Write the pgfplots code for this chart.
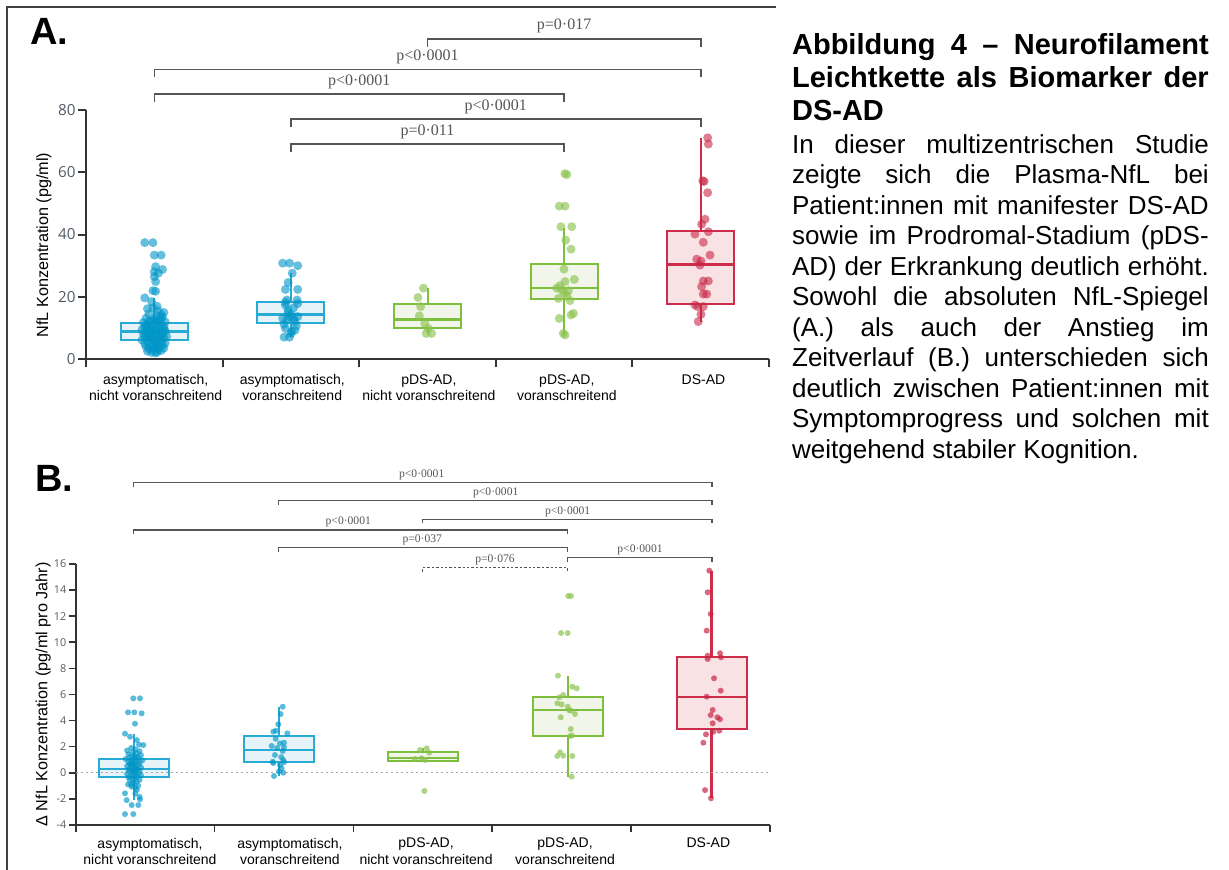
\documentclass[border=0pt]{standalone}
\usepackage{pgfplots}
\pgfplotsset{compat=1.18}
\usepgfplotslibrary{statistics}
\usepackage{fontspec}
\setmainfont{Liberation Sans}
\newfontfamily\pfont{Liberation Serif}
\newfontfamily\tfont{Open Sans}
\definecolor{bluedot}{RGB}{0,150,199}
\definecolor{blueedge}{RGB}{40,170,215}
\definecolor{bluefill}{RGB}{230,244,250}
\definecolor{greendot}{RGB}{140,195,80}
\definecolor{greenedge}{RGB}{125,190,60}
\definecolor{greenfill}{RGB}{241,245,234}
\definecolor{reddot}{RGB}{200,40,70}
\definecolor{rededge}{RGB}{205,45,75}
\definecolor{redfill}{RGB}{248,226,228}
\definecolor{tickgray}{RGB}{80,90,100}
\definecolor{brk}{RGB}{85,85,85}
\begin{document}
\begin{tikzpicture}
\path[use as bounding box] (0,0) rectangle (614.5pt,-435pt);
\draw[line width=1pt, black!75] (3.5pt,-435pt) -- (3.5pt,-3.6pt) -- (388pt,-3.6pt);
\node[anchor=base west, inner sep=0pt, font=\fontsize{19}{22}\selectfont\bfseries] at (15pt,-22.5pt) {A.};
\node[anchor=base west, inner sep=0pt, font=\fontsize{19}{22}\selectfont\bfseries] at (17.5pt,-245.8pt) {B.};
\node[anchor=base west, inner sep=0pt] at (395.85pt,-27.5pt) {\parbox[t]{208.35pt}{\tolerance=10000\hyphenpenalty=10000
{\fontsize{14.5}{16.5}\selectfont\bfseries Abbildung 4 – Neurofilament\linebreak Leichtkette als Biomarker der\linebreak DS-AD\par}
\vspace{0.9pt}
{\fontsize{13}{15.25}\selectfont In dieser multizentrischen Studie\linebreak zeigte sich die Plasma-NfL bei\linebreak Patient:innen mit manifester DS-AD\linebreak sowie im Prodromal-Stadium (pDS-\linebreak AD) der Erkrankung deutlich erhöht.\linebreak Sowohl die absoluten NfL-Spiegel\linebreak (A.) als auch der Anstieg im\linebreak Zeitverlauf (B.) unterschieden sich\linebreak deutlich zwischen Patient:innen mit\linebreak Symptomprogress und solchen mit\linebreak weitgehend stabiler Kognition.\par}}};

% ---------------- Panel A ----------------
\begin{axis}[
 at={(43pt,-179.65pt)}, anchor=south west,
 scale only axis, width=341.5pt, height=124.8pt,
 xmin=0, xmax=5, ymin=0, ymax=80,
 axis lines=left, axis line style={-, line width=1pt, black!80},
 clip=false,
 xtick={0,1,2,3,4,5}, xticklabels={,,,,,},
 ytick={0,20,40,60,80},
 tick align=outside, major tick length=4pt,
 tick style={line width=1pt, black!80},
 /pgf/number format/assume math mode=true,
 yticklabel style={font=\tfont\fontsize{7.6}{9}\selectfont, text=tickgray, inner sep=1pt},
 xticklabel style={font=\fontsize{7}{8}\selectfont, align=center, anchor=north, yshift=-4pt},
 extra x ticks={0.51,1.51,2.51,3.52,4.52},
 extra x tick labels={{asymptomatisch,\\nicht voranschreitend},{asymptomatisch,\\voranschreitend},{pDS-AD,\\nicht voranschreitend},{pDS-AD,\\voranschreitend},{DS-AD}},
 extra x tick style={major tick length=0pt},
 ylabel={NfL Konzentration (pg/ml)},
 ylabel style={at={([xshift=-21pt]axis description cs:0,0.458)}, anchor=center, font=\fontsize{8.1}{9}\selectfont},
 boxplot/draw direction=y,
 boxplot/every median/.style={line width=1.2pt},
]
\addplot[boxplot prepared={draw position=0.5, median=8.85, upper quartile=11.7, lower quartile=6.1, upper whisker=19.7, lower whisker=2.0, box extend=0.49, whisker extend=0}, draw=blueedge, fill=bluefill, line width=1pt] coordinates {};
\addplot[boxplot prepared={draw position=1.5, median=14.4, upper quartile=18.5, lower quartile=11.5, upper whisker=27.6, lower whisker=7.1, box extend=0.49, whisker extend=0}, draw=blueedge, fill=bluefill, line width=1pt] coordinates {};
\addplot[boxplot prepared={draw position=2.5, median=12.8, upper quartile=17.6, lower quartile=9.9, upper whisker=22.7, lower whisker=8.3, box extend=0.49, whisker extend=0}, draw=greenedge, fill=greenfill, line width=1pt] coordinates {};
\addplot[boxplot prepared={draw position=3.5, median=22.9, upper quartile=30.5, lower quartile=19.2, upper whisker=42.2, lower whisker=7.8, box extend=0.49, whisker extend=0}, draw=greenedge, fill=greenfill, line width=1pt] coordinates {};
\addplot[boxplot prepared={draw position=4.5, median=30.4, upper quartile=41.2, lower quartile=17.7, upper whisker=71.0, lower whisker=12.1, box extend=0.49, whisker extend=0}, draw=rededge, fill=redfill, line width=1pt] coordinates {};

\addplot[only marks, mark=*, mark size=2.25pt, color=bluedot, mark options={fill=bluedot, draw opacity=0, fill opacity=0.6}] coordinates {
(0.43,37.4)(0.49,37.4)(0.50,33.4)(0.55,33.4)(0.51,29.7)(0.56,28.8)(0.50,28.1)(0.53,27.6)(0.50,26.5)(0.51,24.9)(0.49,22.0)(0.51,21.8)(0.43,19.7)(0.48,18.5)(0.52,17.0)(0.49,16.5)(0.45,16.2)(0.53,15.5)(0.57,15.0)(0.55,14.3)
(0.46,14.5)(0.52,14.0)(0.56,13.6)(0.44,13.2)(0.50,13.0)(0.54,12.6)(0.47,12.3)(0.58,12.0)(0.42,11.8)(0.51,11.5)(0.55,11.2)(0.45,11.0)(0.49,10.8)(0.57,10.5)(0.43,10.3)(0.52,10.1)(0.47,9.9)(0.55,9.7)(0.41,9.5)(0.50,9.3)(0.58,9.1)(0.45,8.9)(0.53,8.8)(0.48,8.6)(0.56,8.4)(0.42,8.2)(0.51,8.0)(0.46,7.8)(0.54,7.6)(0.59,7.4)(0.44,7.2)(0.50,7.0)(0.57,6.8)(0.47,6.6)(0.53,6.4)(0.41,6.2)(0.49,6.0)(0.55,5.8)(0.45,5.6)(0.52,5.4)(0.58,5.2)(0.43,5.0)(0.50,4.8)(0.56,4.6)(0.47,4.4)(0.54,4.2)(0.44,4.0)(0.51,3.8)(0.57,3.6)(0.46,3.4)(0.53,3.2)(0.49,3.0)(0.55,2.8)(0.45,2.6)(0.52,2.4)(0.48,2.2)(0.51,2.0)(0.47,9.0)(0.53,11.8)(0.50,12.5)(0.44,10.6)(0.56,7.9)(0.48,6.9)(0.52,4.9)(0.55,13.1)(0.46,12.0)(0.57,9.6)(0.43,7.5)(0.51,5.7)(0.49,3.5)
(1.44,30.8)(1.49,30.8)(1.55,30.0)(1.51,27.6)(1.48,24.6)(1.55,22.4)(1.46,22.4)(1.47,19.0)(1.545,19.0)(1.55,17.9)(1.46,17.4)(1.48,15.8)(1.505,14.2)(1.44,13.1)(1.47,12.6)(1.53,12.1)(1.54,10.7)(1.46,9.9)(1.505,8.9)(1.45,7.1)(1.49,7.1)(1.46,18.3)(1.52,16.5)(1.48,14.9)(1.55,13.7)(1.45,11.2)(1.53,9.3)(1.50,8.3)(1.52,12.9)(1.49,13.6)
};
\addplot[only marks, mark=*, mark size=2.25pt, color=greendot, mark options={fill=greendot, draw opacity=0, fill opacity=0.65}] coordinates {
(2.47,22.8)(2.43,19.8)(2.45,16.9)(2.44,13.9)(2.48,11.5)(2.505,9.9)(2.49,8.3)(2.53,8.3)
(3.505,59.5)(3.52,59.2)(3.465,49.1)(3.507,49.1)(3.477,42.5)(3.556,42.5)(3.512,38.2)(3.551,35.3)(3.499,28.9)(3.575,25.6)(3.507,24.9)(3.446,22.8)(3.482,22.2)(3.531,22.0)(3.458,19.5)(3.543,18.8)(3.568,14.7)(3.551,14.2)(3.465,13.1)(3.494,8.3)(3.507,7.8)(3.50,21.2)(3.52,20.3)(3.47,23.6)
};
\addplot[only marks, mark=*, mark size=2.25pt, color=reddot, mark options={fill=reddot, draw opacity=0, fill opacity=0.6}] coordinates {
(4.551,71.0)(4.556,69.0)(4.515,57.2)(4.525,57.0)(4.551,53.4)(4.532,44.9)(4.507,43.3)(4.458,40.1)(4.556,40.9)(4.519,37.5)(4.568,33.4)(4.471,32.1)(4.502,31.5)(4.495,30.2)(4.519,25.1)(4.556,25.1)(4.507,23.3)(4.519,20.9)(4.544,20.9)(4.458,17.4)(4.519,16.9)(4.478,16.9)(4.502,14.4)(4.482,12.1)
};

\tikzset{brA/.style={draw=brk, line width=0.8pt}, plA/.style={anchor=base, font=\pfont\fontsize{8}{9}\selectfont, text=brk, inner sep=0pt}}
\draw[brA] (axis cs:2.5,100.14) |- (axis cs:4.5,102.7) -- (axis cs:4.5,100.14);
\node[plA] at ([yshift=4.5pt]axis cs:3.5,102.7) {p=0·017};
\draw[brA] (axis cs:0.5,90.34) |- (axis cs:4.5,92.9) -- (axis cs:4.5,90.34);
\node[plA] at ([yshift=4.5pt]axis cs:2.5,92.9) {p<0·0001};
\draw[brA] (axis cs:0.5,82.44) |- (axis cs:3.5,85.0) -- (axis cs:3.5,82.44);
\node[plA] at ([yshift=4.5pt]axis cs:2.0,85.0) {p<0·0001};
\draw[brA] (axis cs:1.5,74.44) |- (axis cs:4.5,77.0) -- (axis cs:4.5,74.44);
\node[plA] at ([yshift=4.5pt]axis cs:3.0,77.0) {p<0·0001};
\draw[brA] (axis cs:1.5,66.44) |- (axis cs:3.5,69.0) -- (axis cs:3.5,66.44);
\node[plA] at ([yshift=4.5pt]axis cs:2.5,69.0) {p=0·011};
\end{axis}

% ---------------- Panel B ----------------
\begin{axis}[
 at={(37.85pt,-412.45pt)}, anchor=south west,
 scale only axis, width=347.15pt, height=130.45pt,
 xmin=0, xmax=5, ymin=-4, ymax=16,
 axis lines=left, axis line style={-, line width=0.8pt, black!80},
 clip=false,
 xtick={0,1,2,3,4,5}, xticklabels={,,,,,},
 ytick={-4,-2,0,2,4,6,8,10,12,14,16},
 tick align=outside, major tick length=3.5pt,
 tick style={line width=0.8pt, black!80},
 /pgf/number format/assume math mode=true,
 yticklabel style={font=\tfont\fontsize{5.4}{6}\selectfont, text=tickgray, inner sep=1pt},
 xticklabel style={font=\fontsize{7}{8.3}\selectfont, align=center, anchor=north, yshift=-3pt},
 extra x ticks={0.535,1.543,2.523,3.524,4.556},
 extra x tick labels={{asymptomatisch,\\nicht voranschreitend},{asymptomatisch,\\voranschreitend},{pDS-AD,\\nicht voranschreitend},{pDS-AD,\\voranschreitend},{DS-AD}},
 extra x tick style={major tick length=0pt},
 ylabel={Δ NfL Konzentration (pg/ml pro Jahr)},
 ylabel style={at={([xshift=-16.2pt]axis description cs:0,0.5)}, anchor=center, font=\fontsize{8.1}{9}\selectfont},
 boxplot/draw direction=y,
 boxplot/every median/.style={line width=1.1pt},
]
\addplot[boxplot prepared={draw position=0.418, median=0.28, upper quartile=1.03, lower quartile=-0.31, upper whisker=2.99, lower whisker=-2.1, box extend=0.504, whisker extend=0}, draw=blueedge, fill=bluefill, line width=0.9pt] coordinates {};
\addplot[boxplot prepared={draw position=1.462, median=1.74, upper quartile=2.81, lower quartile=0.84, upper whisker=5.06, lower whisker=-0.25, box extend=0.504, whisker extend=0}, draw=blueedge, fill=bluefill, line width=0.9pt] coordinates {};
\addplot[boxplot prepared={draw position=2.501, median=1.15, upper quartile=1.59, lower quartile=0.92, upper whisker=1.87, lower whisker=0.92, box extend=0.504, whisker extend=0}, draw=greenedge, fill=greenfill, line width=0.9pt] coordinates {};
\addplot[boxplot prepared={draw position=3.543, median=4.78, upper quartile=5.83, lower quartile=2.84, upper whisker=7.44, lower whisker=-0.3, box extend=0.504, whisker extend=0}, draw=greenedge, fill=greenfill, line width=0.9pt] coordinates {};
\addplot[boxplot prepared={draw position=4.580, median=5.78, upper quartile=8.87, lower quartile=3.38, upper whisker=15.49, lower whisker=-1.96, box extend=0.504, whisker extend=0}, draw=rededge, fill=redfill, line width=0.9pt, boxplot/every whisker/.style={line width=1.3pt}] coordinates {};

\draw[draw=gray!70, line width=0.6pt, dash pattern=on 1.2pt off 1.3pt] (axis cs:0,0) -- (axis cs:5,0);

\addplot[only marks, mark=*, mark size=1.5pt, color=bluedot, mark options={fill=bluedot, draw opacity=0, fill opacity=0.65}] coordinates {
(0.415,5.7)(0.463,5.7)(0.377,4.63)(0.422,4.63)(0.475,4.55)(0.427,3.76)(0.355,2.99)(0.391,2.76)(0.487,2.12)(0.456,2.15)(0.44,2.5)
(0.40,1.9)(0.43,1.8)(0.37,1.7)(0.46,1.65)(0.41,1.55)(0.44,1.5)(0.38,1.4)(0.47,1.35)(0.42,1.3)(0.39,1.2)(0.45,1.15)(0.41,1.1)(0.36,1.05)(0.43,1.0)(0.48,0.95)(0.40,0.9)(0.44,0.85)(0.38,0.8)(0.46,0.75)(0.42,0.7)(0.39,0.65)(0.45,0.6)(0.41,0.55)(0.37,0.5)(0.43,0.45)(0.47,0.4)(0.40,0.35)(0.44,0.3)(0.38,0.25)(0.42,0.2)(0.46,0.15)(0.39,0.1)(0.43,0.05)(0.41,0.0)(0.45,-0.05)(0.37,-0.1)(0.42,-0.15)(0.47,-0.2)(0.40,-0.25)(0.44,-0.3)(0.38,-0.35)(0.43,-0.4)(0.41,-0.5)(0.46,-0.55)(0.39,-0.6)(0.44,-0.7)(0.42,-0.8)(0.40,-0.9)(0.45,-1.0)(0.43,-1.15)(0.41,0.62)(0.43,0.28)(0.40,0.72)(0.44,1.22)
(0.355,-1.58)(0.463,-2.04)(0.367,-2.1)(0.403,-2.48)(0.451,-2.48)(0.355,-3.17)(0.415,-3.17)(0.403,-1.07)(0.441,-1.3)(0.377,-0.9)(0.46,-1.85)(0.43,-1.6)
(1.491,5.06)(1.476,4.5)(1.459,3.71)(1.423,3.15)(1.442,3.22)(1.524,3.02)(1.471,2.25)(1.50,2.3)(1.411,2.05)(1.50,1.95)(1.491,1.66)(1.435,1.36)(1.419,0.84)(1.495,0.97)(1.471,0.59)(1.483,0.34)(1.495,0.0)(1.464,0.1)(1.428,-0.25)(1.423,0.75)(1.44,2.6)(1.48,1.2)(1.45,1.9)(1.50,0.8)
};
\addplot[only marks, mark=*, mark size=1.5pt, color=greendot, mark options={fill=greendot, draw opacity=0, fill opacity=0.7}] coordinates {
(2.479,1.74)(2.528,1.87)(2.546,1.53)(2.443,1.05)(2.516,0.97)(2.511,-1.4)(2.49,1.1)
(3.547,13.55)(3.567,13.55)(3.495,10.71)(3.543,10.71)(3.473,7.44)(3.576,6.6)(3.608,6.47)(3.511,5.96)(3.483,5.78)(3.468,5.32)(3.50,5.24)(3.543,5.06)(3.553,4.8)(3.565,4.76)(3.596,4.5)(3.493,4.25)(3.565,3.35)(3.560,2.81)(3.574,2.85)(3.488,1.56)(3.468,1.28)(3.511,1.3)(3.576,1.28)(3.572,-0.3)
};
\addplot[only marks, mark=*, mark size=1.5pt, color=reddot, mark options={fill=reddot, draw opacity=0, fill opacity=0.7}] coordinates {
(4.563,15.49)(4.551,13.83)(4.573,12.17)(4.544,10.89)(4.551,8.97)(4.64,9.16)(4.647,8.85)(4.551,8.72)(4.597,7.24)(4.645,6.29)(4.544,5.83)(4.587,4.81)(4.573,4.42)(4.621,4.25)(4.64,4.1)(4.587,3.79)(4.592,3.14)(4.635,3.22)(4.539,2.94)(4.52,2.3)(4.532,-1.33)(4.575,-1.96)
};

\tikzset{brB/.style={draw=brk, line width=0.6pt}, plB/.style={anchor=base, font=\pfont\fontsize{5.8}{7}\selectfont, text=brk, inner sep=0pt}}
\draw[brB] (axis cs:0.418,21.93) |- (axis cs:4.582,22.24) -- (axis cs:4.582,21.93);
\node[plB] at ([yshift=2.5pt]axis cs:2.492,22.24) {p<0·0001};
\draw[brB] (axis cs:1.459,20.53) |- (axis cs:4.582,20.84) -- (axis cs:4.582,20.53);
\node[plB] at ([yshift=2.5pt]axis cs:3.025,20.84) {p<0·0001};
\draw[brB] (axis cs:2.499,19.12) |- (axis cs:4.582,19.43) -- (axis cs:4.582,19.12);
\node[plB] at ([yshift=2.5pt]axis cs:3.543,19.43) {p<0·0001};
\draw[brB] (axis cs:0.418,18.30) |- (axis cs:3.542,18.61) -- (axis cs:3.542,18.30);
\node[plB] at ([yshift=2.5pt]axis cs:1.963,18.61) {p<0·0001};
\draw[brB] (axis cs:1.459,16.94) |- (axis cs:3.542,17.25) -- (axis cs:3.542,16.94);
\node[plB] at ([yshift=2.5pt]axis cs:2.496,17.25) {p=0·037};
\draw[brB] (axis cs:3.542,16.18) |- (axis cs:4.582,16.49) -- (axis cs:4.582,16.18);
\node[plB] at ([yshift=2.5pt]axis cs:4.064,16.49) {p<0·0001};
\draw[brB, dash pattern=on 1.2pt off 1pt] (axis cs:2.499,15.41) |- (axis cs:3.542,15.72) -- (axis cs:3.542,15.41);
\node[plB] at ([yshift=2.5pt]axis cs:3.02,15.72) {p=0·076};
\end{axis}
\end{tikzpicture}
\end{document}
